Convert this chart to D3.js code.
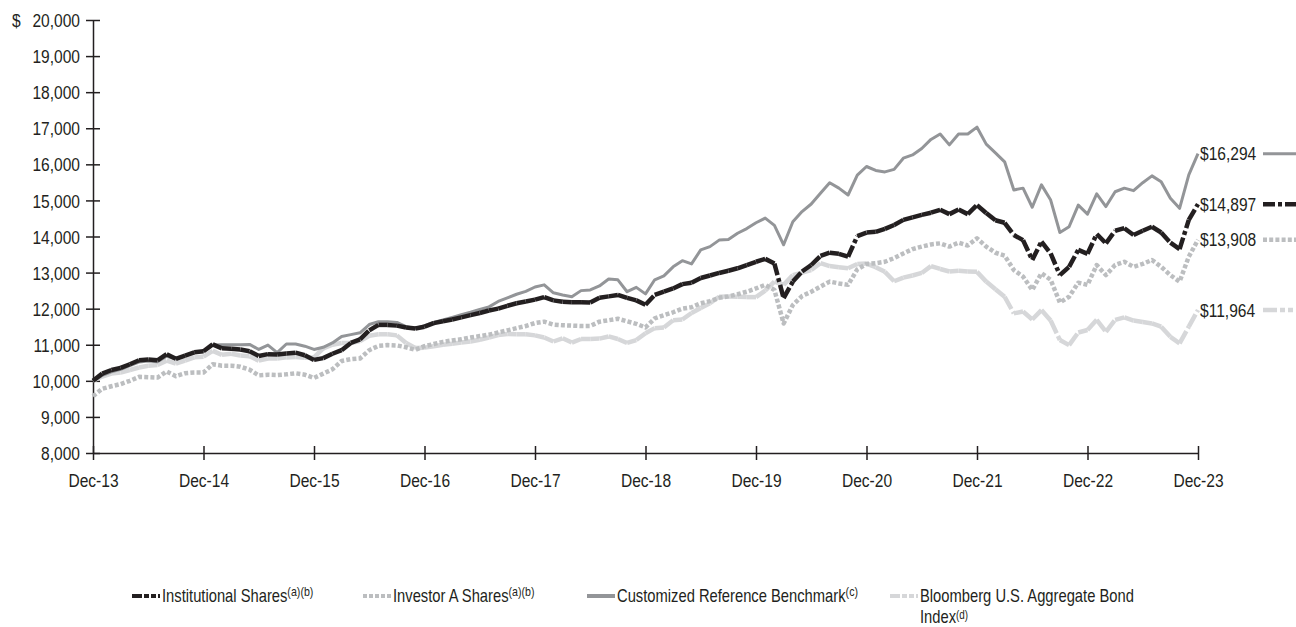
<!DOCTYPE html>
<html>
<head>
<meta charset="utf-8">
<script src="https://cdn.jsdelivr.net/npm/d3@7"></script>
<style>
  body { margin: 0; background: #fff; }
  svg text { font-family: "Liberation Sans", Arial, sans-serif; fill: #231f20; }
</style>
</head>
<body>
<svg id="chart" width="1296" height="627"></svg>
<script>
// growth of $10,000, month-end values Dec-13 .. Dec-23 (121 points)
var institutional = [
  10000,10200,10300,10360,10460,10570,10590,10570,10740,10610,10700,10790,
  10820,11010,10900,10890,10870,10820,10690,10740,10730,10760,10780,10710,
  10580,10630,10750,10850,11050,11150,11400,11550,11550,11530,11480,11450,
  11500,11600,11650,11700,11760,11820,11880,11950,12000,12080,12150,12200,
  12250,12320,12230,12190,12180,12175,12170,12300,12340,12380,12300,12230,
  12110,12380,12470,12560,12680,12720,12850,12920,12990,13050,13120,13210,
  13300,13380,13250,12290,12750,13030,13210,13460,13550,13520,13440,14010,
  14110,14130,14210,14320,14460,14530,14600,14660,14740,14620,14750,14620,
  14870,14650,14450,14380,14040,13900,13350,13860,13530,12930,13160,13630,
  13520,14070,13810,14160,14230,14040,14160,14270,14110,13830,13650,14460,
  14897
];
var investorA = [
  9575,9780,9850,9910,10000,10110,10100,10090,10260,10130,10210,10230,
  10230,10460,10420,10420,10390,10310,10150,10170,10160,10180,10210,10170,
  10080,10200,10320,10550,10600,10620,10850,10970,10990,10980,10930,10860,
  10960,11020,11080,11120,11150,11200,11240,11280,11340,11400,11460,11520,
  11600,11640,11560,11540,11530,11520,11520,11640,11680,11720,11650,11580,
  11480,11730,11820,11900,12000,12040,12150,12210,12300,12340,12400,12470,
  12560,12660,12520,11590,12100,12350,12470,12610,12750,12700,12660,13090,
  13240,13260,13300,13400,13530,13650,13720,13780,13810,13720,13830,13750,
  13950,13720,13550,13470,13070,12890,12520,12980,12800,12170,12330,12720,
  12660,13210,12930,13210,13300,13160,13240,13350,13160,12930,12750,13440,
  13908
];
var benchmark = [
  10000,10150,10250,10320,10420,10520,10550,10530,10680,10600,10700,10800,
  10820,10990,11000,11000,11000,11010,10870,10990,10780,11020,11020,10960,
  10870,10930,11050,11230,11280,11330,11560,11640,11640,11620,11500,11450,
  11530,11620,11690,11760,11830,11900,11980,12050,12200,12300,12400,12480,
  12600,12660,12440,12380,12330,12500,12520,12630,12820,12800,12470,12590,
  12410,12800,12910,13160,13330,13240,13630,13720,13900,13920,14090,14220,
  14380,14510,14310,13770,14410,14690,14900,15200,15490,15340,15150,15700,
  15940,15830,15790,15860,16170,16260,16440,16690,16840,16540,16840,16840,
  17030,16560,16320,16070,15290,15340,14810,15430,15010,14110,14270,14870,
  14620,15180,14830,15240,15340,15270,15490,15680,15520,15060,14780,15710,
  16294
];
var bloomberg = [
  10000,10120,10200,10230,10300,10370,10420,10440,10560,10480,10560,10650,
  10670,10830,10720,10750,10700,10680,10560,10620,10620,10650,10660,10640,
  10650,10900,11000,11050,11050,11100,11250,11290,11290,11260,11050,10910,
  10920,10960,11000,11030,11060,11090,11140,11200,11270,11300,11290,11290,
  11260,11200,11090,11180,11060,11160,11160,11170,11230,11160,11050,11130,
  11320,11460,11480,11680,11700,11880,12020,12150,12330,12340,12330,12320,
  12320,12500,12750,12660,12930,13000,13070,13260,13180,13150,13120,13240,
  13250,13150,13020,12760,12860,12920,12990,13180,13100,13030,13050,13030,
  13020,12750,12540,12330,11870,11920,11700,11960,11670,11130,10990,11340,
  11410,11690,11360,11690,11760,11670,11630,11590,11500,11220,11040,11500,
  11964
];
var xTickLabels = ["Dec-13","Dec-14","Dec-15","Dec-16","Dec-17","Dec-18","Dec-19","Dec-20","Dec-21","Dec-22","Dec-23"];
var yTicks = [8000,9000,10000,11000,12000,13000,14000,15000,16000,17000,18000,19000,20000];
var endLabels = ["$14,897","$13,908","$16,294","$11,964"];

var series = [
  {name: "Bloomberg U.S. Aggregate Bond", line2: "Index", sup: "(d)", values: bloomberg, end: endLabels[3],
   color: "#d6d7d9", width: 4.5, dash: "14,3,5,3,5,3", perSegment: true, lx: 890},
  {name: "Investor A Shares", sup: "(a)(b)", values: investorA, end: endLabels[1],
   color: "#bcbec0", width: 4.5, dash: "4,2.2", perSegment: false, lx: 363},
  {name: "Customized Reference Benchmark", sup: "(c)", values: benchmark, end: endLabels[2],
   color: "#939598", width: 3, dash: null, perSegment: false, lx: 587},
  {name: "Institutional Shares", sup: "(a)(b)", values: institutional, end: endLabels[0],
   color: "#231f20", width: 4.5, dash: "12,3,4,3", perSegment: true, lx: 132}
];

var SX = 0.82; // narrow face: squeeze text horizontally
var svg = d3.select("#chart");
var plotLeft = 93, plotRight = 1198, plotTop = 20, plotBottom = 453;

var x = d3.scaleLinear().domain([0, 120]).range([plotLeft, plotRight]);
var y = d3.scaleLinear().domain([8000, 20000]).range([plotBottom, plotTop]);

function label(parent, px, py, size) {
  return parent.append("text")
    .attr("transform", "translate(" + px + "," + py + ") scale(" + SX + ",1)")
    .attr("dy", "0.35em").style("font-size", size + "px");
}

// y axis
var yAxis = d3.axisLeft(y).tickValues(yTicks).tickSize(7).tickSizeOuter(0).tickPadding(6)
  .tickFormat(d3.format(","));
var gy = svg.append("g").attr("transform", "translate(" + plotLeft + ",0)").call(yAxis);
gy.selectAll(".tick line").attr("x1", -7).attr("x2", 7);
gy.selectAll("text").style("font-size", "19px").attr("dy", "0.35em")
  .attr("x", -13 / SX).attr("transform", "scale(" + SX + ",1)");
label(svg, 12, y(20000), 19).text("$");

// x axis
var xAxis = d3.axisBottom(x).tickValues(d3.range(0, 121, 12)).tickSize(7).tickSizeOuter(0).tickPadding(14)
  .tickFormat(function(d, i) { return xTickLabels[i]; });
var gx = svg.append("g").attr("transform", "translate(0," + plotBottom + ")").call(xAxis);
gx.selectAll(".tick line").attr("y1", -7).attr("y2", 7);
gx.selectAll("text").style("font-size", "19px").attr("transform", "scale(" + SX + ",1)");

svg.selectAll(".domain, .tick line").attr("stroke", "#231f20").attr("stroke-width", 1.5);
svg.selectAll(".tick text").attr("fill", "#231f20");

// lines
var line = d3.line().x(function(d, i) { return x(i); }).y(function(d) { return y(d); });

series.forEach(function(s) {
  if (s.perSegment) {
    // dash pattern restarts on every monthly segment
    var pairs = d3.pairs(s.values.map(function(v, i) { return [i, v]; }));
    svg.append("g").selectAll("line").data(pairs).enter().append("line")
      .attr("x1", function(p) { return x(p[0][0]); })
      .attr("y1", function(p) { return y(p[0][1]); })
      .attr("x2", function(p) { return x(p[1][0]); })
      .attr("y2", function(p) { return y(p[1][1]); })
      .attr("stroke", s.color).attr("stroke-width", s.width)
      .attr("stroke-dasharray", s.dash);
  } else {
    svg.append("path").datum(s.values).attr("d", line)
      .attr("fill", "none").attr("stroke", s.color).attr("stroke-width", s.width)
      .attr("stroke-linejoin", "round")
      .attr("stroke-dasharray", s.dash);
  }
  var last = s.values[s.values.length - 1];
  label(svg, 1200, y(last), 19).text(s.end);
  svg.append("line").attr("x1", 1263).attr("x2", 1296).attr("y1", y(last)).attr("y2", y(last))
    .attr("stroke", s.color).attr("stroke-width", s.width).attr("stroke-dasharray", s.dash);
});

// legend
var legendY = 596;
series.forEach(function(s) {
  svg.append("line").attr("x1", s.lx).attr("x2", s.lx + 28).attr("y1", legendY).attr("y2", legendY)
    .attr("stroke", s.color).attr("stroke-width", 4)
    .attr("stroke-dasharray", s.dash ? (s.perSegment ? "10,2,5,2,5,2" : "4,2") : null);
  var t = label(svg, s.lx + 30, legendY, 18);
  t.append("tspan").text(s.name);
  if (!s.line2) t.append("tspan").attr("dy", "-0.5em").style("font-size", "13px").text(s.sup);
  if (s.line2) {
    var t2 = label(svg, s.lx + 30, legendY + 21, 18);
    t2.append("tspan").text(s.line2);
    t2.append("tspan").attr("dy", "-0.35em").style("font-size", "12px").text(s.sup);
  }
});
</script>
</body>
</html>
